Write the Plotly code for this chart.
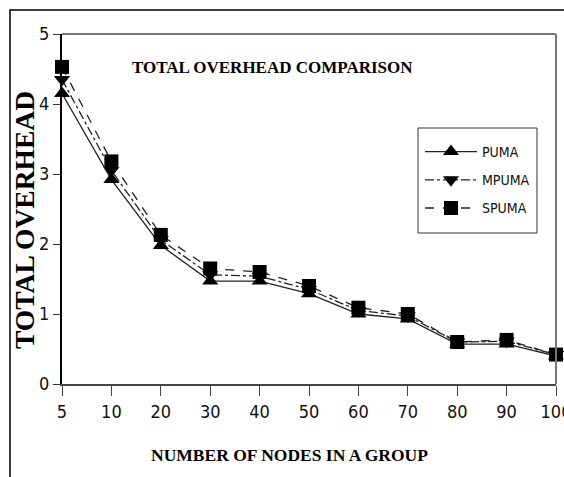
import plotly.graph_objects as go

nodes = ["5", "10", "20", "30", "40", "50", "60", "70", "80", "90", "100"]
puma = [4.15, 2.92, 1.98, 1.47, 1.47, 1.29, 1.00, 0.93, 0.57, 0.57, 0.40]
mpuma = [4.35, 3.05, 2.06, 1.56, 1.54, 1.35, 1.05, 0.97, 0.60, 0.61, 0.42]
spuma = [4.53, 3.18, 2.13, 1.65, 1.60, 1.40, 1.09, 1.00, 0.60, 0.63, 0.42]
y_ticks = [0, 1, 2, 3, 4, 5]

W, H = 564, 477
# reference pixel positions of plot area
PL, PR, PT, PB = 62, 556, 34, 384
L, R, T, B = PL, W - PR, PT, H - PB
pw, ph = PR - PL, PB - PT

def px_x(x):
    return (x - PL) / pw

def px_y(y):
    return (PB - y) / ph

narrow = "Liberation Sans Narrow, Arial Narrow, DejaVu Sans Condensed, Liberation Sans, sans-serif"
serif = "Liberation Serif, Times New Roman, serif"

fig = go.Figure()
series = [
    ("PUMA", puma, "triangle-up", "solid"),
    ("MPUMA", mpuma, "triangle-down", "dashdot"),
    ("SPUMA", spuma, "square", "dash"),
]
for name, vals, sym, dash in series:
    fig.add_trace(go.Scatter(
        x=nodes, y=vals, name=name, mode="lines+markers",
        line=dict(color="#222222", width=1.3, dash=dash),
        marker=dict(symbol=sym, size=14, color="#000000"),
        legendgroup=name, cliponaxis=False,
    ))

fig.update_layout(
    width=W, height=H,
    margin=dict(l=L, r=R, t=T, b=B, autoexpand=False),
    paper_bgcolor="white", plot_bgcolor="white",
    showlegend=True,
    legend=dict(
        x=px_x(420), y=px_y(136), xanchor="left", yanchor="top",
        borderwidth=0, bgcolor="rgba(0,0,0,0)",
        font=dict(family=narrow, size=14, color="#111111"),
        itemwidth=52, traceorder="grouped", tracegroupgap=7,
    ),
    xaxis=dict(
        type="category", range=[0, 10], showgrid=False, zeroline=False,
        automargin=False,
        showline=True, linecolor="#444444", linewidth=2,
        ticks="outside", ticklen=10, tickcolor="#444444", tickwidth=1,
        tickfont=dict(family=narrow, size=18, color="#111111"),
    ),
    yaxis=dict(
        range=[0, 5], tickvals=y_ticks, showgrid=False, zeroline=False,
        automargin=False,
        showline=True, linecolor="#000000", linewidth=2,
        ticks="outside", ticklen=7, tickcolor="#333333", tickwidth=1,
        tickfont=dict(family=narrow, size=18, color="#111111"),
    ),
    shapes=[
        dict(type="line", xref="paper", yref="paper", x0=0, x1=1, y0=1, y1=1,
             line=dict(color="#777777", width=2)),
        dict(type="line", xref="paper", yref="paper", x0=1, x1=1, y0=0, y1=1,
             line=dict(color="#777777", width=2)),
        dict(type="rect", xref="paper", yref="paper",
             x0=px_x(418), x1=px_x(537), y0=px_y(128), y1=px_y(233),
             line=dict(color="#333333", width=1), fillcolor="rgba(0,0,0,0)"),
        dict(type="rect", xref="paper", yref="paper",
             x0=px_x(10), x1=px_x(620), y0=px_y(10), y1=px_y(520),
             line=dict(color="#000000", width=1.5), fillcolor="rgba(0,0,0,0)"),
    ],
    annotations=[
        dict(text="<b>TOTAL OVERHEAD COMPARISON</b>", xref="paper", yref="paper",
             x=px_x(272), y=px_y(67), showarrow=False, xanchor="center", yanchor="middle",
             font=dict(family=serif, size=17, color="#000000")),
        dict(text="<b>NUMBER OF NODES IN A GROUP</b>", xref="paper", yref="paper",
             x=px_x(289), y=px_y(455), showarrow=False, xanchor="center", yanchor="middle",
             font=dict(family=serif, size=17.5, color="#000000")),
        dict(text="<b>TOTAL OVERHEAD</b>", xref="paper", yref="paper",
             x=px_x(25), y=px_y(220), showarrow=False, xanchor="center", yanchor="middle",
             textangle=-90,
             font=dict(family=serif, size=27.5, color="#000000")),
    ],
)

fig.write_html(
    "out.html",
    config={"displayModeBar": False},
    post_script="document.body.style.margin='0';document.body.style.overflow='hidden';",
)
